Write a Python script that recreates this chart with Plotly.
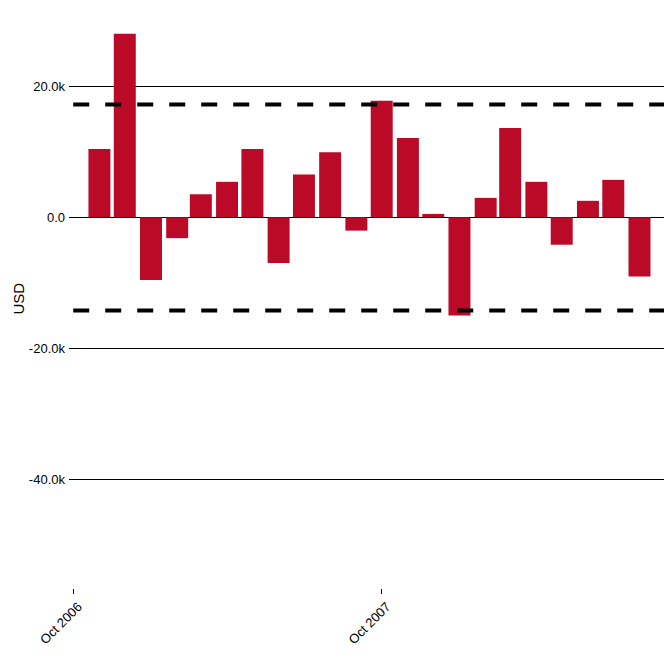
import plotly.graph_objects as go

months = ["2006-11-01", "2006-12-01", "2007-01-01", "2007-02-01", "2007-03-01", "2007-04-01",
          "2007-05-01", "2007-06-01", "2007-07-01", "2007-08-01", "2007-09-01", "2007-10-01",
          "2007-11-01", "2007-12-01", "2008-01-01", "2008-02-01", "2008-03-01", "2008-04-01",
          "2008-05-01", "2008-06-01", "2008-07-01", "2008-08-01"]
values = [10400, 28000, -9600, -3200, 3500, 5400,
          10400, -7000, 6500, 9900, -2050, 17760,
          12100, 500, -15000, 2950, 13600, 5400,
          -4200, 2500, 5700, -9070]
upper_band = 17200
lower_band = -14260
band_x = ["2006-10-01", "2008-08-30"]

y_tickvals = [20000, 0, -20000, -40000]
y_ticktext = ["20.0k", "0.0", "-20.0k", "-40.0k"]
x_tickvals = ["2006-10-01", "2007-10-01"]
x_ticktext = ["Oct 2006", "Oct 2007"]
y_title = "USD"

fig = go.Figure()
fig.add_trace(go.Bar(x=months, y=values, marker=dict(color="#BA0A28", line=dict(width=0)),
                     width=26 * 86400000, showlegend=False))
for v in (upper_band, lower_band):
    fig.add_trace(go.Scatter(x=band_x, y=[v, v], mode="lines",
                             line=dict(color="black", width=4, dash="16px,16px"),
                             showlegend=False, hoverinfo="skip"))

fig.add_annotation(text=y_title, textangle=-90, showarrow=False,
                   xref="paper", yref="paper", x=-0.0849, y=0.5106,
                   xanchor="center", yanchor="middle",
                   font=dict(size=15, color="black"))

fig.update_layout(
    width=656, height=655,
    margin=dict(l=61, r=0, t=12, b=75),
    paper_bgcolor="white", plot_bgcolor="white",
    font=dict(family="Arial, Liberation Sans, sans-serif", size=13, color="black"),
    xaxis=dict(type="date", range=["2006-09-26", "2008-08-30"], automargin=False,
               tickvals=x_tickvals, ticktext=x_ticktext, tickangle=-45,
               ticklabelshift=5,
               showgrid=False, zeroline=False, showline=False,
               ticks="outside", ticklen=5, tickcolor="black", tickwidth=1),
    yaxis=dict(range=[-56600, 30100], tickvals=y_tickvals, ticktext=y_ticktext,
               automargin=False,
               showgrid=True, gridcolor="black", gridwidth=1,
               zeroline=True, zerolinecolor="black", zerolinewidth=1,
               showline=False, ticks="", ticklabelstandoff=3),
)
fig.write_html("out.html")
